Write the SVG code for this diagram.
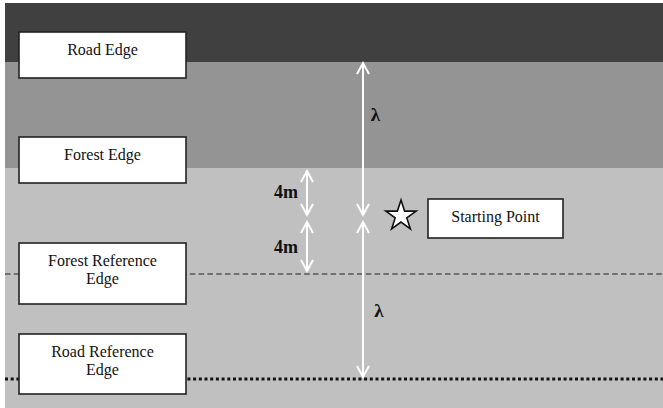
<svg xmlns="http://www.w3.org/2000/svg" width="663" height="408" viewBox="0 0 663 408">
  <style>
    .box { fill: #ffffff; stroke: #222222; stroke-width: 1.6; }
    .lbl { font-size: 16px; fill: #111111; text-anchor: middle; }
    .dim { font-weight: bold; fill: #111111; text-anchor: middle; }
    .arrow { stroke: #ffffff; stroke-width: 2; fill: none; marker-start: url(#head); marker-end: url(#head); }
  </style>
  <defs>
    <marker id="head" markerUnits="userSpaceOnUse" markerWidth="16" markerHeight="16" viewBox="-13 -8 16 16" refX="0" refY="0" orient="auto-start-reverse">
      <path d="M -11 -6 L 0 0 L -11 6" fill="none" stroke="#ffffff" stroke-width="2" stroke-linejoin="miter"/>
    </marker>
  </defs>

  <!-- background bands -->
  <rect x="0" y="0" width="663" height="408" fill="#ffffff"/>
  <rect x="5" y="3" width="658" height="59" fill="#404040"/>
  <rect x="5" y="62" width="658" height="106" fill="#949494"/>
  <rect x="5" y="168" width="658" height="240" fill="#c0c0c0"/>

  <!-- reference lines -->
  <line x1="5" y1="274" x2="663" y2="274" stroke="#555555" stroke-width="1.5" stroke-dasharray="5.5 3.3"/>
  <line x1="5" y1="379" x2="663" y2="379" stroke="#111111" stroke-width="3" stroke-dasharray="3 2.7"/>

  <!-- dimension arrows -->
  <g id="connectors">
    <line class="arrow" x1="363" y1="63" x2="363" y2="215"/>
    <line class="arrow" x1="363" y1="222" x2="363" y2="377"/>
    <line class="arrow" x1="307" y1="171" x2="307" y2="215"/>
    <line class="arrow" x1="307" y1="222" x2="307" y2="271"/>
  </g>

  <g font-family="Liberation Serif, DejaVu Serif, serif">
    <!-- dimension labels -->
    <g id="dimensions">
      <text class="dim" x="375.5" y="121" font-size="19">λ</text>
      <text class="dim" x="379" y="317" font-size="19">λ</text>
      <text class="dim" x="286" y="198" font-size="18">4m</text>
      <text class="dim" x="286" y="253" font-size="18">4m</text>
    </g>

    <g id="road-edge">
      <rect class="box" x="19" y="32" width="167" height="46"/>
      <text class="lbl" x="102.5" y="55">Road Edge</text>
    </g>

    <g id="forest-edge">
      <rect class="box" x="19" y="137" width="167" height="46"/>
      <text class="lbl" x="102.5" y="160">Forest Edge</text>
    </g>

    <g id="forest-reference-edge">
      <rect class="box" x="19" y="243" width="167" height="61"/>
      <text class="lbl" x="102.5" y="265.5">Forest Reference</text>
      <text class="lbl" x="102.5" y="283.5">Edge</text>
    </g>

    <g id="road-reference-edge">
      <rect class="box" x="19" y="334" width="167" height="60"/>
      <text class="lbl" x="102.5" y="356.5">Road Reference</text>
      <text class="lbl" x="102.5" y="374.5">Edge</text>
    </g>

    <g id="starting-point">
      <polygon points="401,200 404.6,211.1 416.2,211.1 406.8,217.9 410.4,228.9 401,222.1 391.6,228.9 395.2,217.9 385.8,211.1 397.4,211.1" fill="#ffffff" stroke="#111111" stroke-width="1.6" stroke-linejoin="miter"/>
      <rect class="box" x="428" y="199" width="135" height="39"/>
      <text class="lbl" x="495.5" y="222">Starting Point</text>
    </g>
  </g>
</svg>
